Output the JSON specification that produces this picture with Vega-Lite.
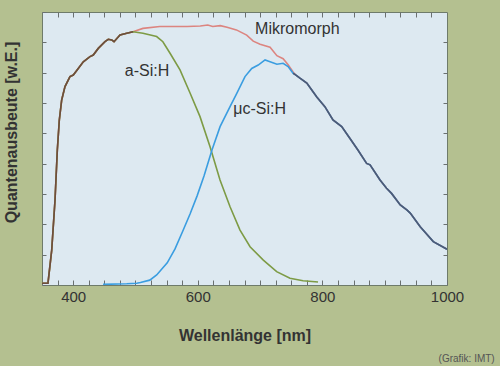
{
  "$schema": "https://vega.github.io/schema/vega-lite/v6.json",
  "width": 405,
  "height": 273,
  "autosize": {"type": "none"},
  "padding": {"left": 42, "top": 12, "right": 53, "bottom": 81},
  "background": "#b4c090",
  "config": {
    "font": "Liberation Sans",
    "view": {"fill": "#dde9f1", "stroke": "#6e7b6a", "strokeWidth": 1},
    "axis": {"grid": false, "domain": false, "tickColor": "#6a7070", "tickWidth": 1}
  },
  "title": {"text": "(Grafik: IMT)", "orient": "bottom", "anchor": "end", "fontSize": 10, "fontWeight": "normal", "color": "#555555", "offset": 11, "dx": 31},
  "datasets": {
    "curves": [
      {"series": "Mikromorph", "nm": 350, "v": 0.6}, {"series": "Mikromorph", "nm": 359.6, "v": 0.6}, {"series": "Mikromorph", "nm": 365.6, "v": 11.5}, {"series": "Mikromorph", "nm": 370.9, "v": 28.0}, {"series": "Mikromorph", "nm": 374.6, "v": 44.5}, {"series": "Mikromorph", "nm": 377.8, "v": 54.4}, {"series": "Mikromorph", "nm": 381.6, "v": 61.0}, {"series": "Mikromorph", "nm": 386.9, "v": 65.4}, {"series": "Mikromorph", "nm": 394.9, "v": 68.7}, {"series": "Mikromorph", "nm": 400.2, "v": 69.2}, {"series": "Mikromorph", "nm": 408.2, "v": 71.4}, {"series": "Mikromorph", "nm": 416.3, "v": 73.6}, {"series": "Mikromorph", "nm": 427, "v": 75.3}, {"series": "Mikromorph", "nm": 432.3, "v": 75.8}, {"series": "Mikromorph", "nm": 440.3, "v": 78.0}, {"series": "Mikromorph", "nm": 451.1, "v": 80.2}, {"series": "Mikromorph", "nm": 456.4, "v": 81.0}, {"series": "Mikromorph", "nm": 461.9, "v": 80.8}, {"series": "Mikromorph", "nm": 465.6, "v": 80.2}, {"series": "Mikromorph", "nm": 475.2, "v": 82.4}, {"series": "Mikromorph", "nm": 486, "v": 83.0}, {"series": "Mikromorph", "nm": 496.1, "v": 83.5},
      {"series": "Mikromorph", "nm": 512, "v": 84.6}, {"series": "Mikromorph", "nm": 539, "v": 85.2}, {"series": "Mikromorph", "nm": 560, "v": 85.2}, {"series": "Mikromorph", "nm": 583, "v": 85.2}, {"series": "Mikromorph", "nm": 604, "v": 85.4}, {"series": "Mikromorph", "nm": 616, "v": 85.7}, {"series": "Mikromorph", "nm": 624, "v": 85.2}, {"series": "Mikromorph", "nm": 636, "v": 85.5}, {"series": "Mikromorph", "nm": 647, "v": 85.0}, {"series": "Mikromorph", "nm": 662, "v": 84.1}, {"series": "Mikromorph", "nm": 678.5, "v": 82.4}, {"series": "Mikromorph", "nm": 689, "v": 80.4}, {"series": "Mikromorph", "nm": 700, "v": 79.4}, {"series": "Mikromorph", "nm": 716, "v": 78.4}, {"series": "Mikromorph", "nm": 727, "v": 75.6}, {"series": "Mikromorph", "nm": 737, "v": 74.6}, {"series": "Mikromorph", "nm": 745, "v": 72.6}, {"series": "Mikromorph", "nm": 753, "v": 70.2},
      {"series": "Mikromorph", "nm": 757, "v": 69.3}, {"series": "Mikromorph", "nm": 764, "v": 68.2}, {"series": "Mikromorph", "nm": 775, "v": 66.6}, {"series": "Mikromorph", "nm": 785, "v": 63.7}, {"series": "Mikromorph", "nm": 791, "v": 62.0}, {"series": "Mikromorph", "nm": 804, "v": 58.8}, {"series": "Mikromorph", "nm": 817, "v": 54.4}, {"series": "Mikromorph", "nm": 831, "v": 52.2}, {"series": "Mikromorph", "nm": 844, "v": 48.4}, {"series": "Mikromorph", "nm": 857, "v": 44.5}, {"series": "Mikromorph", "nm": 871, "v": 40.1}, {"series": "Mikromorph", "nm": 876.5, "v": 39.6}, {"series": "Mikromorph", "nm": 892.5, "v": 34.6}, {"series": "Mikromorph", "nm": 903, "v": 31.9}, {"series": "Mikromorph", "nm": 911, "v": 30.2}, {"series": "Mikromorph", "nm": 925, "v": 26.4}, {"series": "Mikromorph", "nm": 936, "v": 24.7}, {"series": "Mikromorph", "nm": 941, "v": 23.7}, {"series": "Mikromorph", "nm": 957, "v": 19.2}, {"series": "Mikromorph", "nm": 978, "v": 14.3}, {"series": "Mikromorph", "nm": 1000, "v": 11.8},

      {"series": "a-Si:H", "nm": 350, "v": 0.6}, {"series": "a-Si:H", "nm": 359.6, "v": 0.6}, {"series": "a-Si:H", "nm": 365.6, "v": 11.5}, {"series": "a-Si:H", "nm": 370.9, "v": 28.0}, {"series": "a-Si:H", "nm": 374.6, "v": 44.5}, {"series": "a-Si:H", "nm": 377.8, "v": 54.4}, {"series": "a-Si:H", "nm": 381.6, "v": 61.0}, {"series": "a-Si:H", "nm": 386.9, "v": 65.4}, {"series": "a-Si:H", "nm": 394.9, "v": 68.7}, {"series": "a-Si:H", "nm": 400.2, "v": 69.2}, {"series": "a-Si:H", "nm": 408.2, "v": 71.4}, {"series": "a-Si:H", "nm": 416.3, "v": 73.6}, {"series": "a-Si:H", "nm": 427, "v": 75.3}, {"series": "a-Si:H", "nm": 432.3, "v": 75.8}, {"series": "a-Si:H", "nm": 440.3, "v": 78.0}, {"series": "a-Si:H", "nm": 451.1, "v": 80.2}, {"series": "a-Si:H", "nm": 456.4, "v": 81.0}, {"series": "a-Si:H", "nm": 461.9, "v": 80.8}, {"series": "a-Si:H", "nm": 465.6, "v": 80.2}, {"series": "a-Si:H", "nm": 475.2, "v": 82.4}, {"series": "a-Si:H", "nm": 486, "v": 83.0}, {"series": "a-Si:H", "nm": 496.1, "v": 83.5},
      {"series": "a-Si:H", "nm": 512, "v": 83.0}, {"series": "a-Si:H", "nm": 534, "v": 81.9}, {"series": "a-Si:H", "nm": 544, "v": 80.2}, {"series": "a-Si:H", "nm": 555.5, "v": 76.4}, {"series": "a-Si:H", "nm": 571.5, "v": 70.9}, {"series": "a-Si:H", "nm": 587.6, "v": 63.3}, {"series": "a-Si:H", "nm": 603.6, "v": 55.5}, {"series": "a-Si:H", "nm": 619.7, "v": 45.6}, {"series": "a-Si:H", "nm": 635.7, "v": 34.6}, {"series": "a-Si:H", "nm": 651.8, "v": 25.8}, {"series": "a-Si:H", "nm": 667.8, "v": 18.1}, {"series": "a-Si:H", "nm": 683.9, "v": 12.6}, {"series": "a-Si:H", "nm": 705.2, "v": 8.2}, {"series": "a-Si:H", "nm": 726.6, "v": 4.4}, {"series": "a-Si:H", "nm": 748, "v": 2.2}, {"series": "a-Si:H", "nm": 769, "v": 1.4}, {"series": "a-Si:H", "nm": 793, "v": 1.0},

      {"series": "μc-Si:H", "nm": 448, "v": 0.2}, {"series": "μc-Si:H", "nm": 486, "v": 0.4}, {"series": "μc-Si:H", "nm": 502, "v": 0.6}, {"series": "μc-Si:H", "nm": 508, "v": 0.8}, {"series": "μc-Si:H", "nm": 523, "v": 1.6}, {"series": "μc-Si:H", "nm": 534, "v": 3.3}, {"series": "μc-Si:H", "nm": 551, "v": 7.3}, {"series": "μc-Si:H", "nm": 563.5, "v": 11.9}, {"series": "μc-Si:H", "nm": 576, "v": 17.8}, {"series": "μc-Si:H", "nm": 587.6, "v": 23.4}, {"series": "μc-Si:H", "nm": 598.8, "v": 29.3}, {"series": "μc-Si:H", "nm": 610, "v": 35.9}, {"series": "μc-Si:H", "nm": 622.8, "v": 44.5}, {"series": "μc-Si:H", "nm": 635.8, "v": 52.2}, {"series": "μc-Si:H", "nm": 651.8, "v": 58.8}, {"series": "μc-Si:H", "nm": 662.6, "v": 63.2}, {"series": "μc-Si:H", "nm": 675.8, "v": 68.7}, {"series": "μc-Si:H", "nm": 686.6, "v": 71.4}, {"series": "μc-Si:H", "nm": 697, "v": 72.5}, {"series": "μc-Si:H", "nm": 708, "v": 74.2}, {"series": "μc-Si:H", "nm": 716, "v": 73.6}, {"series": "μc-Si:H", "nm": 727, "v": 72.8}, {"series": "μc-Si:H", "nm": 737, "v": 73.1}, {"series": "μc-Si:H", "nm": 745, "v": 72.0}, {"series": "μc-Si:H", "nm": 753, "v": 69.8},
      {"series": "μc-Si:H", "nm": 757, "v": 69.3}, {"series": "μc-Si:H", "nm": 764, "v": 68.2}, {"series": "μc-Si:H", "nm": 775, "v": 66.6}, {"series": "μc-Si:H", "nm": 785, "v": 63.7}, {"series": "μc-Si:H", "nm": 791, "v": 62.0}, {"series": "μc-Si:H", "nm": 804, "v": 58.8}, {"series": "μc-Si:H", "nm": 817, "v": 54.4}, {"series": "μc-Si:H", "nm": 831, "v": 52.2}, {"series": "μc-Si:H", "nm": 844, "v": 48.4}, {"series": "μc-Si:H", "nm": 857, "v": 44.5}, {"series": "μc-Si:H", "nm": 871, "v": 40.1}, {"series": "μc-Si:H", "nm": 876.5, "v": 39.6}, {"series": "μc-Si:H", "nm": 892.5, "v": 34.6}, {"series": "μc-Si:H", "nm": 903, "v": 31.9}, {"series": "μc-Si:H", "nm": 911, "v": 30.2}, {"series": "μc-Si:H", "nm": 925, "v": 26.4}, {"series": "μc-Si:H", "nm": 936, "v": 24.7}, {"series": "μc-Si:H", "nm": 941, "v": 23.7}, {"series": "μc-Si:H", "nm": 957, "v": 19.2}, {"series": "μc-Si:H", "nm": 978, "v": 14.3}, {"series": "μc-Si:H", "nm": 1000, "v": 11.8}
    ],
    "labels": [
      {"label": "Mikromorph", "nm": 692, "v": 84.3},
      {"label": "a-Si:H", "nm": 483, "v": 70.6},
      {"label": "μc-Si:H", "nm": 657, "v": 57.9}
    ]
  },
  "layer": [
    {
      "data": {"name": "curves"},
      "mark": {"type": "line", "strokeWidth": 1.6, "clip": true},
      "encoding": {
        "x": {"field": "nm", "type": "quantitative", "scale": {"domain": [350, 1000], "nice": false, "zero": false},
          "axis": {"orient": "bottom", "values": [375, 400, 425, 450, 475, 500, 525, 550, 575, 600, 625, 650, 675, 700, 725, 750, 775, 800, 825, 850, 875, 900, 925, 950, 975, 1000],
            "format": "d", "labelExpr": "datum.value % 200 == 0 ? datum.label : ''", "tickSize": -5, "labelFontSize": 15, "labelColor": "#333333", "labelPadding": 9, "labelFlush": false,
            "title": "Wellenlänge [nm]", "titleFontSize": 16, "titleFontWeight": "bold", "titleColor": "#333333", "titleBaseline": "middle", "titleY": 50}},
        "y": {"field": "v", "type": "quantitative", "scale": {"domain": [0, 90], "nice": false},
          "axis": {"orient": "left", "values": [0, 10, 20, 30, 40, 50, 60, 70, 80, 90], "labels": false, "tickSize": -4,
            "title": "Quantenausbeute [w.E.]", "titleFontSize": 16, "titleFontWeight": "bold", "titleColor": "#333333", "titleBaseline": "middle", "titleX": -31, "titleY": 120}},
        "color": {"field": "series", "type": "nominal", "legend": null,
          "scale": {"domain": ["Mikromorph", "a-Si:H", "μc-Si:H"], "range": ["#dc8580", "#7d9b45", "#3a9de0"]}}
      }
    },
    {
      "data": {"name": "curves"},
      "transform": [{"filter": "datum.series == 'a-Si:H' && datum.nm <= 497"}],
      "mark": {"type": "line", "strokeWidth": 1.6, "color": "#6e4c3e", "clip": true},
      "encoding": {
        "x": {"field": "nm", "type": "quantitative", "axis": null},
        "y": {"field": "v", "type": "quantitative", "axis": null}
      }
    },
    {
      "data": {"name": "curves"},
      "transform": [{"filter": "datum.series == 'μc-Si:H' && datum.nm >= 753"}],
      "mark": {"type": "line", "strokeWidth": 1.6, "color": "#4e5a74", "clip": true},
      "encoding": {
        "x": {"field": "nm", "type": "quantitative", "axis": null},
        "y": {"field": "v", "type": "quantitative", "axis": null}
      }
    },
    {
      "data": {"name": "curves"},
      "mark": {"type": "point", "opacity": 0},
      "encoding": {
        "x": {"field": "nm", "type": "quantitative", "axis": {"orient": "top", "values": [375, 400, 425, 450, 475, 500, 525, 550, 575, 600, 625, 650, 675, 700, 725, 750, 775, 800, 825, 850, 875, 900, 925, 950, 975], "labels": false, "tickSize": -5, "title": null}},
        "y": {"field": "v", "type": "quantitative", "axis": {"orient": "right", "values": [10, 20, 30, 40, 50, 60, 70, 80], "labels": false, "tickSize": -4, "title": null}}
      }
    },
    {
      "data": {"name": "labels"},
      "mark": {"type": "text", "align": "left", "baseline": "middle", "fontSize": 16, "color": "#333333"},
      "encoding": {
        "x": {"field": "nm", "type": "quantitative", "axis": null},
        "y": {"field": "v", "type": "quantitative", "axis": null},
        "text": {"field": "label"}
      }
    }
  ],
  "resolve": {"axis": {"x": "independent", "y": "independent"}}
}
